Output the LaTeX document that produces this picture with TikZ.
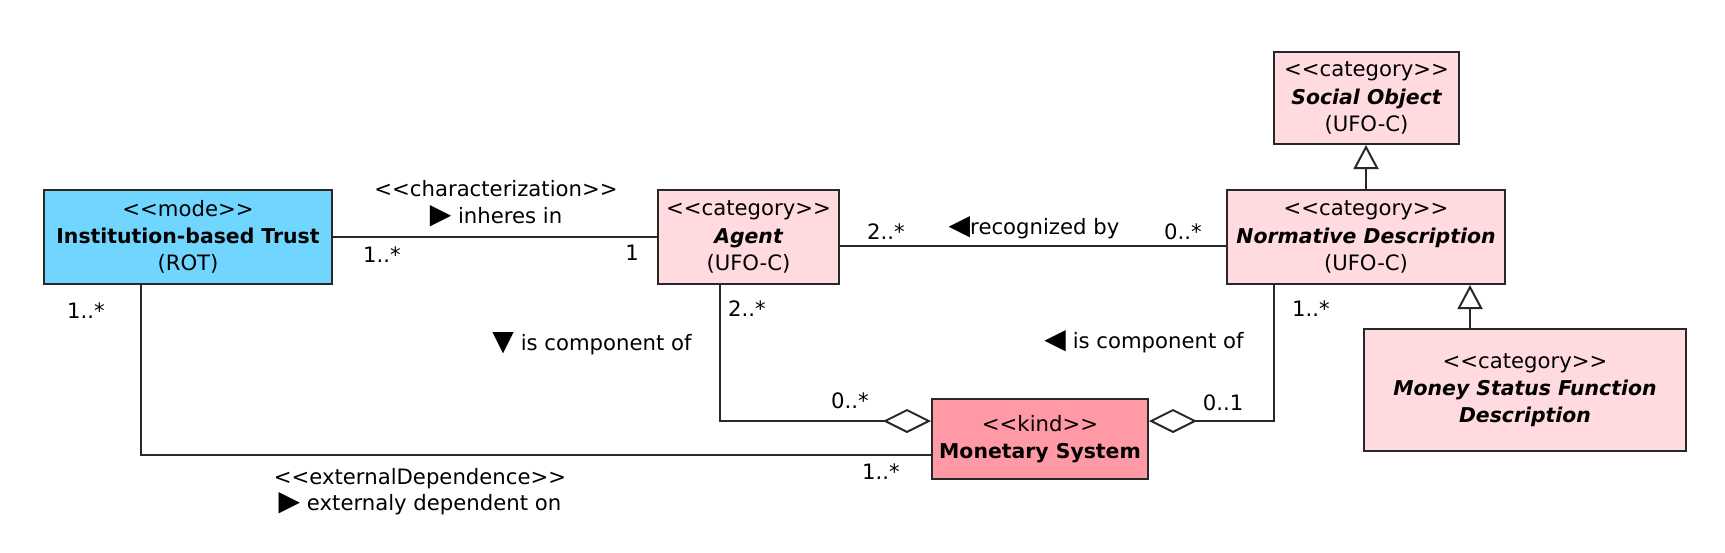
\documentclass[tikz,border=0pt]{standalone}
\usepackage{fontspec}
\setmainfont{DejaVu Sans}
\usetikzlibrary{arrows.meta,positioning,calc}

\definecolor{modecyan}{RGB}{112,214,255}
\definecolor{catpink}{RGB}{255,218,222}
\definecolor{kindpink}{RGB}{255,153,165}
\definecolor{edgegray}{RGB}{40,40,40}

% 构造型文字 (避免 << 变成 «)
\newcommand{\stereo}[1]{\mbox{<}\mbox{<}#1\mbox{>}\mbox{>}}
% 方向三角
\newcommand{\dirmark}[1]{{\fontsize{14}{14}\selectfont #1}}
% 类名
\newcommand{\clsname}[1]{{\fontsize{10.2}{13.6}\selectfont\bfseries #1}}

\begin{document}
\begin{tikzpicture}[
    x=0.5pt, y=-0.5pt,
    font=\fontsize{10.6}{13.6}\selectfont,
    % 类的方框
    classbox/.style={draw=edgegray, line width=1pt, align=center, inner sep=0pt},
    % 连线与标签
    conn/.style={line width=1pt, edgegray},
    agg/.style={conn, -{Diamond[open, length=24pt, width=12pt, line width=1pt]}},
    gen/.style={conn, -{Triangle[open, length=12pt, width=12.5pt, line width=1pt]}},
    lbl/.style={inner sep=1pt}
]
    \useasboundingbox (0,0) rectangle (1725,552);

    % --- 定义类 ---
    \node[classbox, fill=modecyan, minimum width=144pt, minimum height=47pt] (trust) at (188,237)
        {\stereo{mode}\\\clsname{Institution-based Trust}\\(ROT)};
    \node[classbox, fill=catpink, minimum width=90.5pt, minimum height=47pt] (agent) at (748.5,237)
        {\stereo{category}\\\clsname{\itshape Agent}\\(UFO-C)};
    \node[classbox, fill=catpink, minimum width=92.5pt, minimum height=46pt] (social) at (1366.5,98)
        {\stereo{category}\\\clsname{\itshape Social Object}\\(UFO-C)};
    \node[classbox, fill=catpink, minimum width=139pt, minimum height=47pt] (normative) at (1366,237)
        {\stereo{category}\\\clsname{\itshape Normative Description}\\(UFO-C)};
    \node[classbox, fill=catpink, minimum width=161pt, minimum height=61pt] (msfd) at (1525,390)
        {\stereo{category}\\\clsname{\itshape Money Status Function}\\\clsname{\itshape Description}};
    \node[classbox, fill=kindpink, minimum width=108pt, minimum height=40pt] (monetary) at (1040,439)
        {\stereo{kind}\\\clsname{Monetary System}};

    % --- 绘制连线 ---
    % 1. characterization
    \draw[conn] (trust) -- (agent);
    % 2. recognized by
    \draw[conn] ([yshift=-4.5pt]agent.east) -- ([yshift=-4.5pt]normative.west);
    % 3. 泛化
    \draw[gen] (normative.north) -- (normative.north |- social.south);
    \draw[gen] ([xshift=-27.5pt]msfd.north) -- ([xshift=-27.5pt]msfd.north |- normative.south);
    % 4. externalDependence
    \draw[conn] ([xshift=-23.5pt]trust.south) |- ([yshift=-8pt]monetary.west);
    % 5. 组成关系
    \draw[agg] ([xshift=-14.25pt]agent.south) |- ([yshift=9pt]monetary.west);
    \draw[agg] ([xshift=-46pt]normative.south) |- ([yshift=9pt]monetary.east);

    % --- 添加标签 ---
    \node[lbl] (charst) at (496,189) {\stereo{characterization}};
    \node[lbl] (charname) at (496,216) {\dirmark{▶} inheres in};
    \node[lbl] (mtrust) at (382,255) {1..*};
    \node[lbl] (magent) at (632,253) {1};
    \node[lbl] (magentrec) at (886,232) {2..*};
    \node[lbl] (recname) at (1034,228) {\dirmark{◀}recognized by};
    \node[lbl] (mnormrec) at (1183,232) {0..*};
    \node[lbl] (mtrustext) at (86,311) {1..*};
    \node[lbl] (magentcomp) at (747,309) {2..*};
    \node[lbl] (compagent) at (592,344) {\dirmark{▼} is component of};
    \node[lbl] (compnorm) at (1144,342) {\dirmark{◀} is component of};
    \node[lbl] (mnormcomp) at (1311,309) {1..*};
    \node[lbl] (mmonagent) at (850,401) {0..*};
    \node[lbl] (mmonnorm) at (1223,403) {0..1};
    \node[lbl] (mmonext) at (881,472) {1..*};
    \node[lbl] (extst) at (420,479) {\stereo{externalDependence}};
    \node[lbl] (extname) at (420,504) {\dirmark{▶} externaly dependent on};
\end{tikzpicture}
\end{document}
